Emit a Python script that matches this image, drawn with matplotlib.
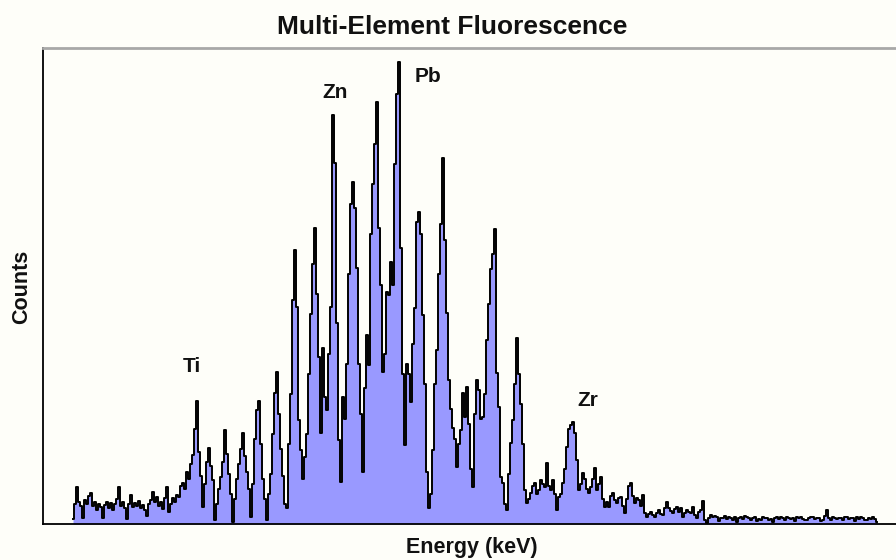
import matplotlib
matplotlib.use("Agg")
import matplotlib.pyplot as plt
import numpy as np

# Spectrum counts per channel
counts_low = [5, 20, 37, 22, 18, 6, 24, 20, 28, 31, 18, 22, 14, 20, 17, 6, 19, 22, 16, 21,
              14, 20, 25, 37, 18, 22, 16, 5, 20, 29, 17, 21, 18, 23, 16, 19, 14, 8, 20, 24,
              32, 22, 27, 18, 22, 15, 26, 37, 12]
counts_ti = [20, 26, 22, 29, 27, 38, 41, 35, 52, 45, 60, 69, 95, 123, 72, 48, 17, 40, 62, 76,
             58, 44, 4, 20, 35, 47, 62, 94, 70, 50, 30, 2, 25, 45, 60, 75, 91, 68, 52, 35,
             7, 40, 85, 114, 123, 80, 45, 25, 4, 30, 50, 90, 131, 152, 110, 75, 48, 20]
counts_main = [16, 80, 130, 224, 274, 217, 104, 74, 45, 67, 90, 150, 210, 260, 296, 230, 167, 91, 176, 127,
               114, 170, 217, 409, 361, 201, 84, 42, 127, 105, 160, 250, 320, 342, 316, 256, 160, 110, 52, 136,
               189, 159, 290, 340, 380, 422, 296, 239, 152, 170, 232, 229, 262, 239, 360, 430, 462, 276, 150, 79,
               160, 150, 122, 180, 216, 302, 312, 290, 209, 140, 52, 16, 30, 74, 140, 174, 250, 300, 366, 284,
               211, 144, 115, 96, 85, 57, 80, 94, 131, 107, 137, 100, 55, 37, 110, 144, 134, 105, 107, 130,
               184, 220, 255, 270, 295, 151, 117, 47, 41, 20, 14, 50, 81, 104, 140, 186, 150, 120, 80, 34]
counts_zr = [21, 25, 31, 38, 41, 30, 34, 44, 40, 37, 61, 38, 34, 44, 30, 14, 27, 30, 41, 55,
             77, 95, 99, 102, 91, 64, 34, 40, 51, 45, 35, 31, 37, 45, 56, 34, 40, 47, 25, 17,
             22, 17, 28, 31, 24, 21, 26, 27, 18, 11, 25, 38, 41, 28, 21, 26, 24, 18, 29]
counts_tail = [11, 7, 10, 12, 9, 7, 11, 14, 10, 9, 16, 22, 16, 13, 11, 15, 17, 12, 16, 7,
               11, 14, 12, 11, 17, 9, 6, 12, 14, 23, 4, 1, 6, 9, 7, 8, 7, 3, 6, 6,
               8, 5, 7, 6, 4, 7, 2, 6, 7, 5, 8, 7, 6, 4, 6, 7, 3, 5, 4, 7,
               6, 6, 4, 5, 2, 6, 7, 5, 7, 6, 4, 7, 6, 5, 6, 3, 7, 6, 7, 5,
               4, 4, 6, 7, 7, 5, 6, 6, 3, 4, 8, 14, 6, 4, 7, 6, 5, 6, 6, 4,
               7, 7, 5, 6, 6, 3, 7, 5, 7, 6, 4, 4, 6, 5, 7, 5, 2]

counts = np.array(counts_low + counts_ti + counts_main + counts_zr + counts_tail) * 10
channels = np.arange(len(counts))

peak_labels = ["Ti", "Zn", "Pb", "Zr"]
peak_channels = [59.5, 131, 177.5, 257.5]
label_counts = [1570, 4310, 4480, 1240]

BG = "#FEFEF9"
fig = plt.figure(figsize=(8.96, 5.6), dpi=100, facecolor=BG)
ax = fig.add_axes([43 / 896, 36 / 560, 1.0 - 43 / 896, 476 / 560])
ax.set_facecolor(BG)

ax.fill_between(channels, counts, step="mid", color="#9999FF", linewidth=0)
ax.step(channels, counts, where="mid", color="black", linewidth=1.4)

ax.set_xlim(-15, 411.5)
ax.set_ylim(0, 4760)
ax.set_xticks([])
ax.set_yticks([])

for s in ["left", "bottom"]:
    ax.spines[s].set_color("black")
    ax.spines[s].set_linewidth(1.3)
ax.spines["top"].set_color("#A8A8A8")
ax.spines["top"].set_linewidth(2)
ax.spines["right"].set_visible(False)

fam = ["Liberation Sans", "DejaVu Sans"]
for lab, c, y in zip(peak_labels, peak_channels, label_counts):
    ax.text(c, y, lab, ha="center", va="center", fontsize=15, fontweight="bold",
            family=fam, color="#111111")

fig.text(452 / 896, 1 - 27 / 560, "Multi-Element Fluorescence", ha="center", va="center",
         fontsize=19, fontweight="bold", family=fam, color="#111111")
fig.text(472 / 896, 1 - 548 / 560, "Energy (keV)", ha="center", va="center",
         fontsize=15.5, fontweight="bold", family=fam, color="#111111")
fig.text(22 / 896, 1 - 287 / 560, "Counts", ha="center", va="center", rotation=90,
         fontsize=15.5, fontweight="bold", family=fam, color="#111111")

fig.savefig("out.png", dpi=100, facecolor=BG)
